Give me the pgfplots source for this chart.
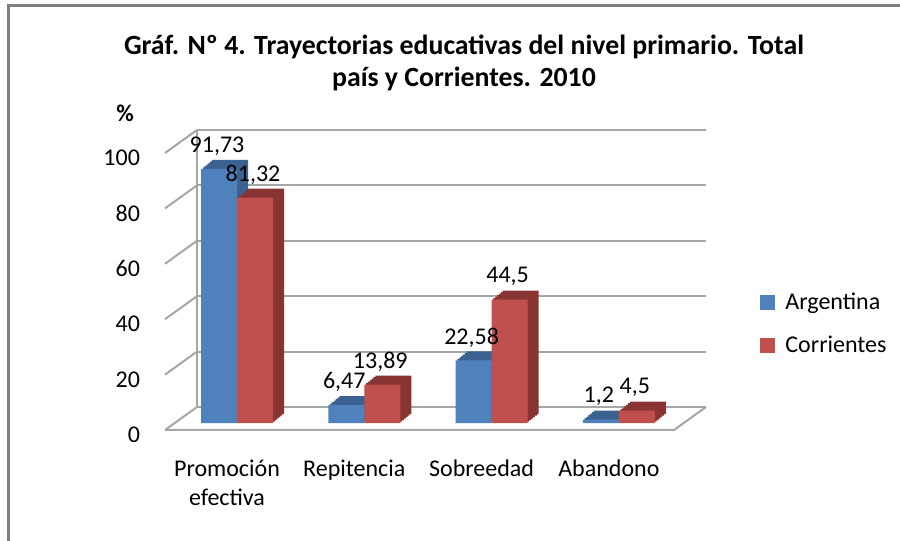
\documentclass[border=0pt]{standalone}
\usepackage{fontspec}
\setmainfont{Carlito}
\usepackage{pgfplots}
\pgfplotsset{compat=1.18}
\definecolor{barblue}{HTML}{4F81BD}
\definecolor{barred}{HTML}{C0504D}
\definecolor{sideblue}{HTML}{3A6190}
\definecolor{sidered}{HTML}{873432}
\definecolor{gridgray}{HTML}{A6A6A6}
\definecolor{framegray}{HTML}{808080}
\pgfplotsset{
  shadow/.style={ybar, bar width=18pt, draw=none, forget plot, xshift=#1*0.917pt, yshift=#1*0.75pt},
}

\begin{document}
\begin{tikzpicture}
\begin{scope}[x=0.5pt,y=0.5pt]
  % 3D walls (behind everything)
  \foreach \v in {0,20,40,60,80,100} {
    \draw[gridgray, line width=1pt] (165,{111+2.77*\v}) -- (197,{134+2.77*\v});
  }
  \draw[gridgray, line width=1pt] (197,134) -- (197,411);
  \draw[gridgray, line width=1pt] (165,111) -- (674,111) -- (706,134);
\end{scope}
\begin{axis}[
  at={(82.5pt,59pt)}, anchor=south west,
  scale only axis, width=254.5pt, height=138.5pt,
  xmin=-0.5656, xmax=3.433, ymin=0, ymax=100,
  axis line style={draw=none},
  major tick length=0pt,
  ytick={0,20,40,60,80,100},
  xtick={0,1,2,3},
  xticklabels={Promoción\\efectiva, Repitencia, Sobreedad, Abandono},
  xticklabel style={align=center, font=\fontsize{12}{14.5}\selectfont, xshift=-5pt, yshift=-15pt, anchor=north},
  yticklabel style={font=\fontsize{12}{14.5}\selectfont, xshift=-9pt, yshift=-6pt},
  /pgf/number format/assume math mode=true,
  /pgf/number format/use comma,
  ymajorgrids,
  major grid style={draw=gridgray, line width=1pt, xshift=16pt, yshift=8pt},
  clip=false,
  legend style={draw=none, fill=none, at={(1.169,0.487)}, anchor=north west,
    font=\fontsize{12}{14.5}\selectfont, row sep=8pt, inner sep=0pt},
  legend cell align=left,
  legend image code/.code={\fill[#1] (0pt,-3.75pt) rectangle (7.5pt,3.75pt);},
]
% Argentina: side/top faces
\pgfplotsinvokeforeach{6,5,4,3,2,1}{
  \addplot[shadow=#1, bar shift=-9pt, fill=sideblue] coordinates {(0,91.73) (1,6.47) (2,22.58) (3,1.2)};
}
% Argentina: front faces
\addplot[ybar, bar width=18pt, bar shift=-9pt, fill=barblue, draw=none,
  nodes near coords,
  every node near coord/.append style={anchor=center, yshift=11.5pt, xshift=-10pt, font=\fontsize{12}{14.5}\selectfont, text=black}]
  coordinates {(0,91.73) (1,6.47) (2,22.58) (3,1.2)};
\addlegendentry{\hspace{3pt}Argentina}
% Corrientes: side/top faces
\pgfplotsinvokeforeach{6,5,4,3,2,1}{
  \addplot[shadow=#1, bar shift=9pt, fill=sidered] coordinates {(0,81.32) (1,13.89) (2,44.5) (3,4.5)};
}
% Corrientes: front faces
\addplot[ybar, bar width=18pt, bar shift=9pt, fill=barred, draw=none,
  nodes near coords,
  every node near coord/.append style={anchor=center, yshift=11.5pt, xshift=8pt, font=\fontsize{12}{14.5}\selectfont, text=black}]
  coordinates {(0,81.32) (1,13.89) (2,44.5) (3,4.5)};
\addlegendentry{\hspace{3pt}Corrientes}
\end{axis}
\begin{scope}[x=0.5pt,y=0.5pt]
  % title and unit
  \node[align=center, font=\bfseries\fontsize{13.9}{16}\selectfont] at (464,478)
    {Gráf. Nº 4. Trayectorias educativas del nivel primario. Total\\país y Corrientes. 2010};
  \node[font=\bfseries\fontsize{12}{14.5}\selectfont] at (125,428) {\%};
  % frame
  \draw[framegray, line width=1.5pt] (8.5,0) -- (8.5,535.5) -- (902,535.5);
\end{scope}
\pgfresetboundingbox
\path (0pt,0pt) rectangle (450pt,270.5pt);
\end{tikzpicture}
\end{document}
